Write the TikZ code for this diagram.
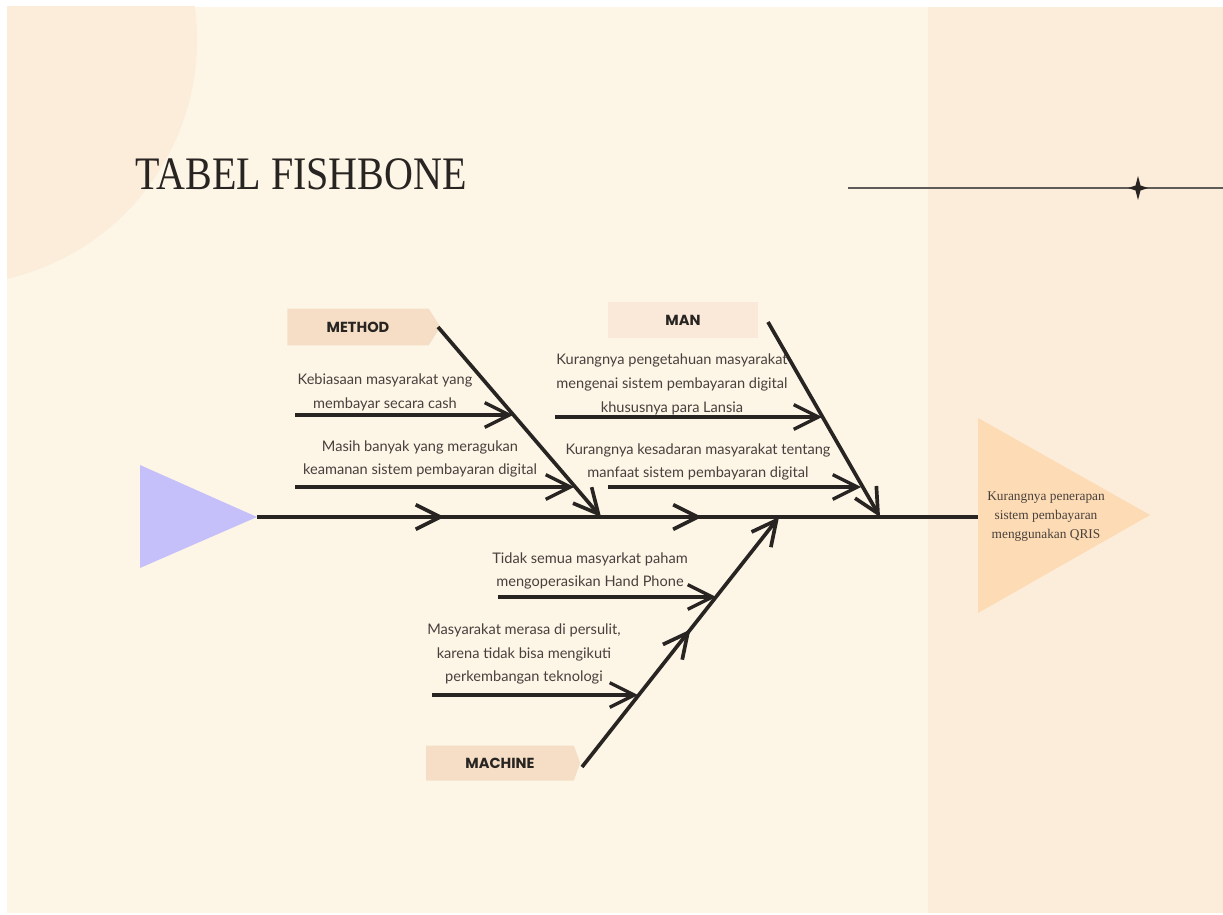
\documentclass[tikz,border=0pt]{standalone}
\usepackage{fontspec}
\setmainfont{Liberation Serif}
\setsansfont{Lato}
\newfontfamily\tagfont{Poppins}
\usetikzlibrary{arrows.meta,decorations.markings,shapes.symbols}

\definecolor{slide}{RGB}{253,246,231}
\definecolor{peach}{RGB}{252,236,218}
\definecolor{ink}{RGB}{40,36,34}
\definecolor{txt}{RGB}{72,64,60}
\definecolor{tagfill}{RGB}{245,222,197}
\definecolor{taglight}{RGB}{250,233,216}
\definecolor{lilac}{RGB}{198,192,250}
\definecolor{effectfill}{RGB}{253,219,180}
\definecolor{rayfill}{RGB}{245,228,207}

\begin{document}
\begin{tikzpicture}[x=0.02cm, y=-0.02cm, >={Straight Barb[length=14pt, width=14pt]},
	bone/.style={draw=ink, line width=2.1pt, ->},
	twig/.style={draw=ink, line width=1.9pt, ->},
	cause/.style={font=\sffamily\fontsize{8.3}{13.6}\selectfont, text=txt, align=center, inner sep=0pt},
	tagbox/.style={font=\tagfont\bfseries\fontsize{8.3}{10}\selectfont, text=ink, inner sep=0pt},
	rays/.style={draw=rayfill, line width=2pt, line cap=round}]
	\useasboundingbox (0,0) rectangle (1223,915);
	
	%Hintergrund
	\fill[white] (0,0) rectangle (1223,915);
	\fill[slide] (7,7) rectangle (1223,913);
	\fill[peach] (928,7) rectangle (1223,913);
	\begin{scope}
		\clip (7,7) rectangle (928,913);
		\fill[peach] (-48,40) circle (245);
	\end{scope}
	\foreach \a in {25,40,...,160}
		\draw[rays, shift={(897,912)}] (\a:28) -- (\a:85);
	
	%Titel
	\node[anchor=base west, inner sep=0pt, text=ink, font=\fontsize{26.5}{30}\selectfont] (title) at (135,190) {\scalebox{0.86}[1]{TABEL FISHBONE}};
	\coordinate (lineL) at (848,188);
	\coordinate (lineR) at (1223,188);
	\draw[ink!75, line width=0.8pt] (lineL) -- (lineR);
	\fill[ink] (1138,176) -- (1140.5,185.5) -- (1148,188) -- (1140.5,190.5) -- (1138,200) -- (1135.5,190.5) -- (1128,188) -- (1135.5,185.5) -- cycle;
	
	%Kopf und Schwanz
	\coordinate (tail) at (257,517);
	\coordinate (head) at (978,517);
	\fill[lilac] (140,465) -- (tail) -- (140,568) -- cycle;
	\fill[effectfill] (head) ++(0,-99) -- (1150,515) -- (978,613) -- cycle;
	\node[font=\fontsize{7.6}{10.8}\selectfont, text=txt, align=center, inner sep=0pt] (effect) at (1046,517) {Kurangnya penerapan\\sistem pembayaran\\menggunakan QRIS};
	
	%Hauptgraete
	\draw[bone, -, postaction={decorate}, decoration={markings, mark=at position 0.26 with {\arrow{>}}, mark=at position 0.617 with {\arrow{>}}}] (tail) -- (head);
	
	%Kategorien
	\node[tagbox, shape=signal, signal to=east, signal pointer angle=115, fill=tagfill, minimum width=3.06cm, minimum height=0.74cm] (method) at (358,327) {METHOD};
	\node[tagbox, fill=taglight, minimum width=3cm, minimum height=0.72cm] (man) at (683,320) {MAN};
	\node[tagbox, shape=signal, signal to=east, signal pointer angle=140, fill=tagfill, minimum width=3.08cm, minimum height=0.7cm] (machine) at (500,763) {MACHINE};
	
	\coordinate (methodA) at (438,327);
	\coordinate (methodB) at (601,517);
	\coordinate (manA) at (768,322);
	\coordinate (manB) at (880,517);
	\coordinate (machineA) at (582,767);
	\coordinate (machineB) at (779,517);
	\draw[bone] (methodA) -- (methodB);
	\draw[bone] (manA) -- (manB);
	\draw[bone, postaction={decorate}, decoration={markings, mark=at position 0.55 with {\arrow{>}}}] (machineA) -- (machineB);
	
	%Ursachen
	\coordinate (t1) at (295,415); \coordinate (h1) at (513,415);
	\coordinate (t2) at (295,487); \coordinate (h2) at (574,487);
	\coordinate (t3) at (555,417); \coordinate (h3) at (822,417);
	\coordinate (t4) at (608,487); \coordinate (h4) at (861,487);
	\coordinate (t5) at (498,597); \coordinate (h5) at (716,597);
	\coordinate (t6) at (432,695); \coordinate (h6) at (638,695);
	\foreach \i in {1,...,6}
		\draw[twig] (t\i) -- (h\i);
	
	\node[cause] (c1) at (385,392) {Kebiasaan masyarakat yang\\membayar secara cash};
	\node[cause] (c2) at (420,459) {Masih banyak yang meragukan\\keamanan sistem pembayaran digital};
	\node[cause] (c3) at (672,384) {Kurangnya pengetahuan masyarakat\\mengenai sistem pembayaran digital\\khususnya para Lansia};
	\node[cause] (c4) at (698,462) {Kurangnya kesadaran masyarakat tentang\\manfaat sistem pembayaran digital};
	\node[cause] (c5) at (590,571) {Tidak semua masyarkat paham\\mengoperasikan Hand Phone};
	\node[cause] (c6) at (524,654) {Masyarakat merasa di persulit,\\karena tidak bisa mengikuti\\perkembangan teknologi};
\end{tikzpicture}
\end{document}
